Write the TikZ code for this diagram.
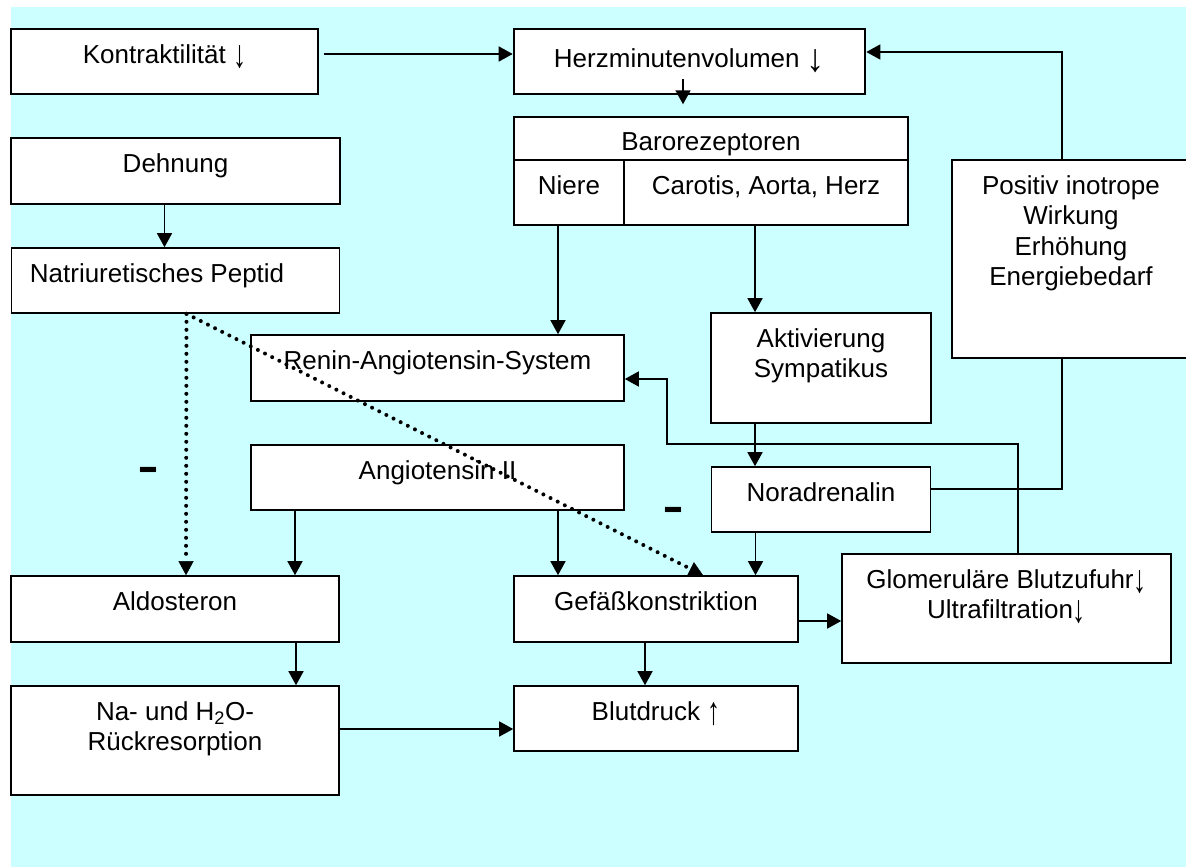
\documentclass[tikz,border=0pt]{standalone}
\usepackage{fontspec}
\setmainfont{Liberation Sans}
\usepackage{tikz}
\usetikzlibrary{shapes,arrows,arrows.meta}
\usetikzlibrary{positioning,fit}
\definecolor{hintergrund}{RGB}{204,255,255}
\newcommand{\runter}[1][1]{\raisebox{-4pt}{\scalebox{#1}[1.5]{↓}}}
\newcommand{\hoch}{\raisebox{-4pt}{\scalebox{1}[1.5]{↑}}}
\tikzstyle{box} = [draw, rectangle, fill=white, line width=1.6pt, inner sep=0pt]
\tikzstyle{txt} = [anchor=north, align=center, inner sep=0pt, yshift=-16pt]
\tikzstyle{pfeil} = [line width=1.5pt, -{Triangle[length=14pt,width=15pt]}]
\tikzstyle{linie} = [line width=1.5pt]
\tikzstyle{punkte} = [line width=4pt, line cap=round, dash pattern=on 0pt off 8pt,
    -{Triangle[length=14pt,width=15pt,line width=0.5pt]}]
\tikzstyle{minus} = [anchor=base, inner sep=0pt, font=\fontsize{66}{66}\selectfont]

\begin{document}
\begin{tikzpicture}[x=1pt, y=1pt, font=\fontsize{26}{30.5}\selectfont]
  \useasboundingbox (0,0) rectangle (1186,-867);
  \clip (0,0) rectangle (1186,-867);
  \fill [hintergrund] (11,-7) rectangle (1186,-867);

  % obere Reihe
  \node [box, minimum width=307pt, minimum height=65pt,
    label={[txt]north:Kontraktilität \runter}] (kontr) at (164.5,-61.5) {};
  \node [box, line width=2.6pt, minimum width=351pt, minimum height=65pt,
    label={[txt, yshift=-5pt]north:Herzminutenvolumen \runter[1.4]}] (hmv) at (689.5,-61.5) {};
  \node [box, minimum width=394pt, minimum height=43pt,
    label={[txt]north:Barorezeptoren}] (baro) at (711,-138.5) {};
  \node [box, minimum width=110pt, minimum height=65pt,
    label={[txt]north:Niere}] (niere) at (569,-192.5) {};
  \node [box, minimum width=284pt, minimum height=65pt,
    label={[txt]north:{Carotis, Aorta, Herz}}] (carotis) at (766,-192.5) {};
  \node [box, minimum width=238pt, minimum height=198pt,
    label={[txt]north:{Positiv inotrope\\Wirkung\\Erhöhung\\Energiebedarf}}] (pos) at (1071,-259) {};

  % linke Spalte
  \node [box, minimum width=329pt, minimum height=66pt,
    label={[txt]north:Dehnung}] (dehn) at (175.5,-171) {};
  \node [box, minimum width=328pt, minimum height=65pt, below of=dehn, node distance=109.5pt,
    label={[txt, anchor=north west, xshift=19pt]north west:Natriuretisches Peptid}] (natr) {};
  \node [box, minimum width=328pt, minimum height=66pt,
    label={[txt]north:Aldosteron}] (aldo) at (175,-609) {};
  \node [box, minimum width=328pt, minimum height=109pt, below of=aldo, node distance=131.5pt,
    label={[txt]north:{Na- und H\textsubscript{2}O-\\Rückresorption}}] (na) {};

  % Mitte
  \node [box, minimum width=373pt, minimum height=66pt,
    label={[txt]north:Renin-Angiotensin-System}] (ras) at (437.5,-368) {};
  \node [box, minimum width=373pt, minimum height=65pt, below of=ras, node distance=109.5pt,
    label={[txt]north:Angiotensin II}] (ang) {};
  \node [box, minimum width=284pt, minimum height=66pt,
    label={[txt]north:Gefäßkonstriktion}] (gef) at (656,-609) {};
  \node [box, minimum width=284pt, minimum height=65pt, below of=gef, node distance=109.5pt,
    label={[txt]north:Blutdruck \hoch}] (blut) {};

  % rechte Seite
  \node [box, minimum width=220pt, minimum height=110pt,
    label={[txt]north:{Aktivierung\\Sympatikus}}] (akt) at (821,-368) {};
  \node [box, minimum width=219pt, minimum height=65pt, below of=akt, node distance=131.5pt,
    label={[txt]north:Noradrenalin}] (nora) {};
  \node [box, minimum width=329pt, minimum height=109pt,
    label={[txt]north:{Glomeruläre Blutzufuhr\runter\\Ultrafiltration\runter}}] (glom) at (1006.5,-608.5) {};

  \node [minus] (minus1) at (148,-487) {-};
  \node [minus] (minus2) at (673,-527) {-};

  \coordinate (knick) at (667,-444);

  % Verbindungen
  \draw [pfeil] ([xshift=5pt,yshift=7.5pt]kontr.east) -- ([yshift=7.5pt]hmv.west);
  \draw [pfeil] ([xshift=-9pt]pos.north) |- ([yshift=9.5pt]hmv.east);
  \draw [pfeil] ([xshift=-6.5pt,yshift=16pt]hmv.south) -- ([xshift=-6.5pt,yshift=-9pt]hmv.south);
  \draw [pfeil] ([xshift=-11pt]niere.south) -- ([xshift=-11pt]niere.south |- ras.north);
  \draw [pfeil] ([xshift=-11pt]carotis.south) -- ([xshift=-11pt]carotis.south |- akt.north);
  \draw [pfeil] ([xshift=-66pt]akt.south) -- ([xshift=-66pt]akt.south |- nora.north);
  \draw [pfeil] ([xshift=-65.5pt]nora.south) -- ([xshift=-65.5pt]nora.south |- gef.north);
  \draw [linie] ([yshift=10.5pt]nora.east) -| ([xshift=-9pt]pos.south);
  \draw [pfeil] ([xshift=11.5pt]glom.north) |- (knick) |- ([yshift=-11pt]ras.east);
  \draw [pfeil] ([xshift=-11pt]dehn.south) -- ([xshift=-11pt]dehn.south |- natr.north);
  \draw [pfeil] ([xshift=-142.5pt]ang.south) -- ([xshift=-142.5pt]ang.south |- aldo.north);
  \draw [pfeil] ([xshift=120.5pt]ang.south) -- ([xshift=120.5pt]ang.south |- gef.north);
  \draw [pfeil] ([xshift=121pt]aldo.south) -- ([xshift=121pt]aldo.south |- na.north);
  \draw [pfeil] ([xshift=-11pt]gef.south) -- ([xshift=-11pt]gef.south |- blut.north);
  \draw [pfeil] ([yshift=-12pt]gef.east) -- ([yshift=-12pt]gef.east -| glom.west);
  \draw [pfeil] ([yshift=11.5pt]na.east) -- ([yshift=11.5pt]na.east -| blut.west);
  \draw [punkte] ([xshift=11pt]natr.south) -- ([xshift=11pt]aldo.north);
  \draw [punkte] ([xshift=11pt]natr.south) -- ([xshift=47pt]gef.north);
\end{tikzpicture}
\end{document}
